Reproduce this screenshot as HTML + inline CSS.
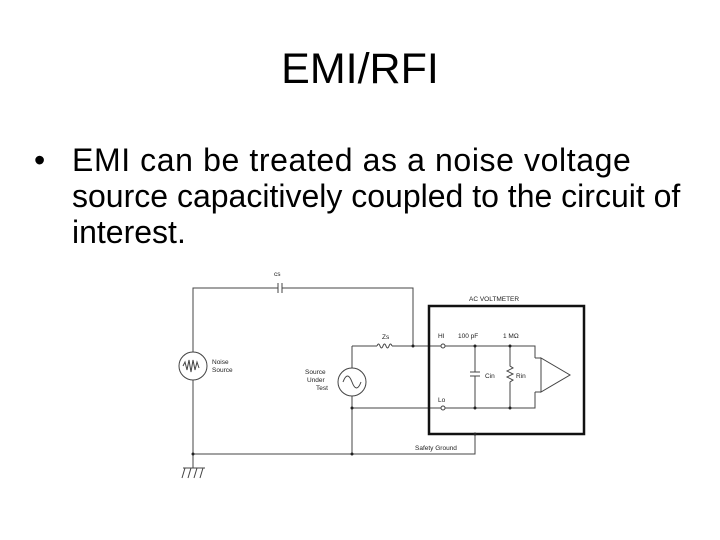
<!DOCTYPE html>
<html><head><style>
body{margin:0;width:720px;height:540px;background:#fff;font-family:"Liberation Sans",sans-serif;overflow:hidden;position:relative}
.t{position:absolute;left:0;width:720px;top:44px;text-align:center;font-size:43px;line-height:50px}
.l{position:absolute;left:72px;font-size:32px;line-height:36px;white-space:nowrap}
</style></head><body>
<div class="t">EMI/RFI</div>
<div class="l" style="left:34px;top:142px">•</div>
<div class="l" style="top:142px;letter-spacing:0.6px">EMI can be treated as a noise voltage</div>
<div class="l" style="top:178px">source capacitively coupled to the circuit of</div>
<div class="l" style="top:214px">interest.</div>
<svg width="720" height="540" style="position:absolute;left:0;top:0" font-family="Liberation Sans" font-size="6.5" fill="none" stroke="#444" stroke-width="1">
<path d="M193 352V288H278M282 288H413V346"/>
<path d="M278 283v10M282 283v10"/>
<path d="M193 380V454H475V434"/>
<path d="M352 346V368M352 396V454M352 346H377M392 346H535V358M352 408H535V392"/>
<path d="M377 346q1.5-4 3 0t3 0t3 0t3 0t3 0"/>
<path d="M475 346V372M475 376V408M470 372h10M470 376h10"/>
<path d="M510 346V366l3 2-6 3 6 3-6 3 6 3-3 2V408"/>
<path d="M535 358h6M535 392h6M541 358v34l29-17z"/>
<rect x="429" y="306" width="155" height="128" stroke="#111" stroke-width="2.5"/>
<circle cx="193" cy="366" r="14"/><path d="M183 366l2-4 2 8 2-10 2 12 2-12 2 10 2-8 2 6"/>
<circle cx="352" cy="382" r="14"/><path d="M343 382q4.5-12 9 0t9 0"/>
<path d="M183 468H205M185 468l-3 10M191 468l-3 10M197 468l-3 10M203 468l-3 10M193 454v14"/>
<circle cx="443" cy="346" r="2" fill="#fff"/><circle cx="443" cy="408" r="2" fill="#fff"/>
<g fill="#222" stroke="none">
<circle cx="413" cy="346" r="1.5"/><circle cx="475" cy="346" r="1.5"/><circle cx="510" cy="346" r="1.5"/>
<circle cx="475" cy="408" r="1.5"/><circle cx="510" cy="408" r="1.5"/><circle cx="352" cy="408" r="1.5"/>
<circle cx="193" cy="454" r="1.5"/><circle cx="352" cy="454" r="1.5"/><circle cx="475" cy="434" r="1.5"/>
<text x="274" y="276">cs</text><text x="382" y="339">Zs</text>
<text x="469" y="301">AC VOLTMETER</text>
<text x="438" y="338">HI</text><text x="458" y="338">100 pF</text><text x="503" y="338">1 MΩ</text>
<text x="438" y="402">Lo</text><text x="485" y="378">Cin</text><text x="516" y="378">Rin</text>
<text x="212" y="364">Noise</text><text x="212" y="372">Source</text>
<text x="305" y="374">Source</text><text x="307" y="382">Under</text><text x="316" y="390">Test</text>
<text x="415" y="450">Safety Ground</text>
</g>
</svg>
</body></html>
